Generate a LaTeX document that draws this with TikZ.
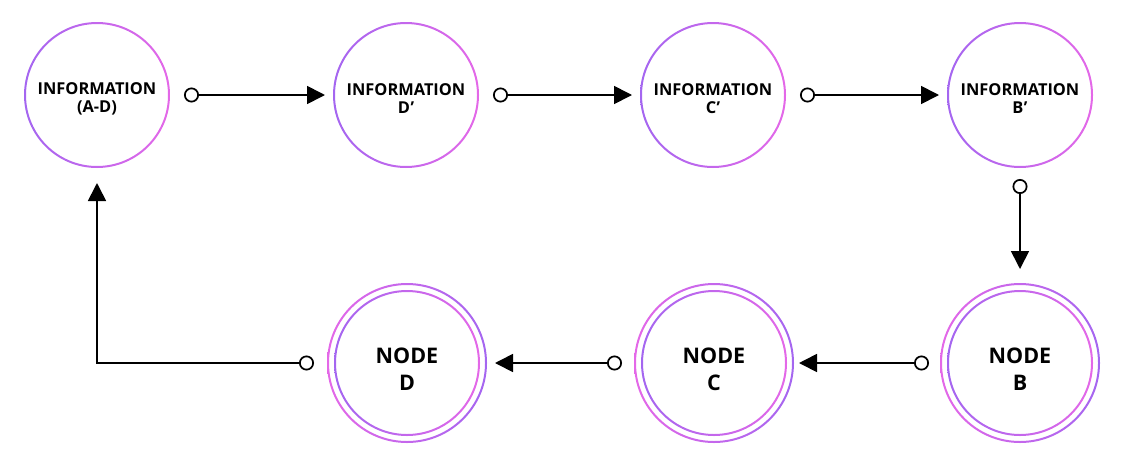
\documentclass[tikz,border=0pt]{standalone}
\usepackage{fontspec}
\setmainfont{Open Sans}
\usetikzlibrary{arrows.meta}
\definecolor{pur}{RGB}{164,102,240}
\definecolor{pnk}{RGB}{228,104,232}
\tikzset{
  holder/.style={circle,minimum size=#1,inner sep=0pt,outer sep=0pt},
  infotext/.style={align=center,font=\fontsize{16.4}{18}\selectfont\bfseries,text=black,inner sep=0pt},
  nodetext/.style={align=center,font=\fontsize{21.5}{27}\selectfont\bfseries,text=black,inner sep=0pt},
  conn/.style={line width=1.7pt,draw=black,
    {Circle[open,length=15pt,width=15pt,line width=1.7pt]}-{Triangle[length=18pt,width=18pt]}},
}
\newcommand{\myring}[4]{% center, radius, left colour, right colour
  \shade[left color=#3,right color=#4,even odd rule]
    (#1) circle[radius=#2pt+1pt] circle[radius=#2pt-1pt];}
\begin{document}
\begin{tikzpicture}[x=1pt,y=-1pt]
\useasboundingbox (0,0) rectangle (1137,464);
% top information circles
\node[holder=146pt] (i1) at (97,95) {};
\node[holder=146pt] (i2) at (406,95) {};
\node[holder=146pt] (i3) at (713,95) {};
\node[holder=146pt] (i4) at (1020,95) {};
\foreach \n in {i1,i2,i3,i4} {\myring{\n.center}{72}{pur}{pnk}}
\node[infotext] (t1) at (97,99) {INFORMATION\\(A-D)};
\node[infotext] (t2) at (406,99) {INFORMATION\\D\kern0.5pt\textquoteright};
\node[infotext] (t3) at (713,99) {INFORMATION\\C\kern0.5pt\textquoteright};
\node[infotext] (t4) at (1020,99) {INFORMATION\\B\kern0.5pt\textquoteright};
% bottom node circles
\node[holder=160pt] (nD) at (407,363) {};
\node[holder=160pt] (nC) at (714,363) {};
\node[holder=160pt] (nB) at (1020,363) {};
\foreach \n in {nD,nC,nB} {\myring{\n.center}{79}{pnk}{pur}\myring{\n.center}{72}{pur}{pnk}}
\node[nodetext] (u1) at (407,369) {NODE\\D};
\node[nodetext] (u2) at (714,369) {NODE\\C};
\node[nodetext] (u3) at (1020,369) {NODE\\B};
% connectors
\draw[conn,shorten <=14pt,shorten >=8pt] (i1.east) -- (i2.west);
\draw[conn,shorten <=14pt,shorten >=8pt] (i2.east) -- (i3.west);
\draw[conn,shorten <=14pt,shorten >=8pt] (i3.east) -- (i4.west);
\draw[conn,shorten <=11pt,shorten >=14pt] (i4.south) -- (nB.north);
\draw[conn,shorten <=11pt,shorten >=5pt] (nB.west) -- (nC.east);
\draw[conn,shorten <=12pt,shorten >=8pt] (nC.west) -- (nD.east);
\draw[conn,shorten <=13pt,shorten >=15pt] (nD.west) -| (i1.south);
\end{tikzpicture}
\end{document}
